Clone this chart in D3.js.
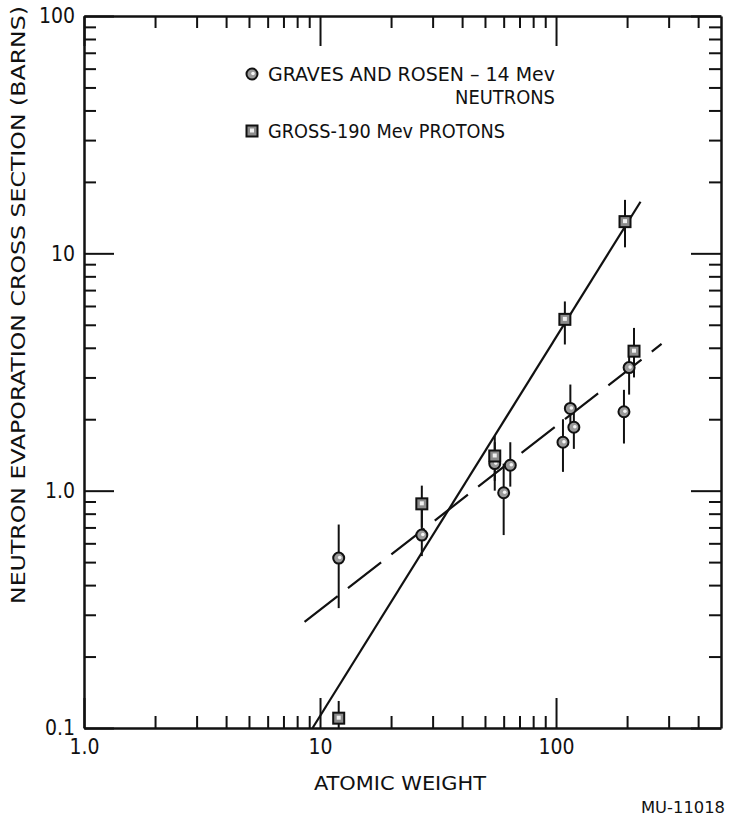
<!DOCTYPE html>
<html lang="en">
<head>
<meta charset="UTF-8">
<title>Neutron evaporation cross section vs atomic weight</title>
<script src="https://d3js.org/d3.v7.min.js"></script>
<style>
  body { margin: 0; background: #fff; }
  svg text {
    font-family: "DejaVu Sans Condensed", "Liberation Sans Narrow", "DejaVu Sans", sans-serif;
    fill: #111;
  }
  .axis line { stroke: #111; stroke-width: 2; }
  .axis .domain { stroke: #111; stroke-width: 2.5; }
  .errbar { stroke: #111; stroke-width: 2; }
  .fit { fill: none; stroke: #111; stroke-width: 2.2; }
</style>
</head>
<body>
<svg id="chart" width="733" height="817"></svg>
<script>
// Graves and Rosen - 14 Mev neutrons (circles)
const grA   = [12, 27, 55, 60, 64, 107, 115, 119, 194, 204];
const grVal = [0.52, 0.65, 1.3, 0.98, 1.28, 1.6, 2.22, 1.85, 2.15, 3.3];
const grLo  = [0.32, 0.53, 1.0, 0.65, 1.04, 1.2, 1.8, 1.5, 1.58, 2.54];
const grHi  = [0.72, 0.85, 1.6, 1.3, 1.6, 2.0, 2.8, 2.2, 2.66, 4.0];

// Gross - 190 Mev protons (squares)
const gpA   = [12, 27, 55, 109, 196, 214];
const gpVal = [0.11, 0.88, 1.4, 5.27, 13.6, 3.87];
const gpLo  = [0.10, 0.7, 1.1, 4.13, 10.6, 3.0];
const gpHi  = [0.13, 1.05, 1.7, 6.27, 16.8, 4.85];

// drawn lines (end points)
const solidLine  = [[9.3, 0.1], [228, 16.5]];
const dashedLine = [[8.6, 0.28], [280, 4.15]];

const xTicks = [1, 10, 100];
const xTickLabels = ["1.0", "10", "100"];
const yTicks = [0.1, 1, 10, 100];
const yTickLabels = ["0.1", "1.0", "10", "100"];

const svg = d3.select("#chart");
const plotL = 84, plotR = 721, plotT = 16, plotB = 728;

const x = d3.scaleLog().domain([1, 500]).range([plotL, plotR]);
const y = d3.scaleLog().domain([0.1, 100]).range([plotB, plotT]);

// minor ticks 2..9 of every decade inside the domain
function minorTicks(scale) {
  const [a, b] = scale.domain();
  const out = [];
  for (let d = a; d < b; d *= 10) {
    for (let k = 2; k <= 9; k++) {
      if (d * k < b * 0.999) out.push(d * k);
    }
  }
  return out;
}
const xMinor = minorTicks(x);
const yMinor = minorTicks(y);

// axes: major ticks long, minor ticks short, all pointing inward
function addAxis(axisFn, scale, tf, majors, minors, labels, pad) {
  const gMaj = svg.append("g").attr("class", "axis").attr("transform", tf)
    .call(axisFn(scale).tickValues(majors).tickSizeInner(-30).tickSizeOuter(0)
      .tickPadding(pad)
      .tickFormat((d, i) => labels ? labels[i] : ""));
  svg.append("g").attr("class", "axis").attr("transform", tf)
    .call(axisFn(scale).tickValues(minors).tickSizeInner(-12).tickSizeOuter(0)
      .tickFormat(""))
    .select(".domain").remove();
  return gMaj;
}

const gx = addAxis(d3.axisBottom, x, `translate(0,${plotB})`, xTicks, xMinor, xTickLabels, 11);
addAxis(d3.axisTop, x, `translate(0,${plotT})`, xTicks, xMinor, null, 0);
const gy = addAxis(d3.axisLeft, y, `translate(${plotL},0)`, yTicks, yMinor, yTickLabels, 9);
addAxis(d3.axisRight, y, `translate(${plotR},0)`, yTicks, yMinor, null, 0);

gx.selectAll("text").style("font-size", "21px").attr("fill", "#111");
gy.selectAll("text").style("font-size", "21px").attr("fill", "#111");

// fitted lines
const line = d3.line().x(d => x(d[0])).y(d => y(d[1]));
svg.append("path").attr("class", "fit").attr("d", line(solidLine));
svg.append("path").attr("class", "fit").attr("d", line(dashedLine))
  .attr("stroke-dasharray", "42,13");

// error bars
const grData = grA.map((a, i) => ({ a, v: grVal[i], lo: grLo[i], hi: grHi[i] }));
const gpData = gpA.map((a, i) => ({ a, v: gpVal[i], lo: gpLo[i], hi: gpHi[i] }));

svg.append("g").selectAll("line").data(grData.concat(gpData)).join("line")
  .attr("class", "errbar")
  .attr("x1", d => x(d.a)).attr("x2", d => x(d.a))
  .attr("y1", d => y(d.lo)).attr("y2", d => y(d.hi));

// markers
function circleMark(sel) {
  sel.append("circle").attr("r", 5.5).attr("fill", "#9a9a9a")
    .attr("stroke", "#111").attr("stroke-width", 2);
  sel.append("circle").attr("r", 1.8).attr("cx", 1).attr("cy", -0.5).attr("fill", "#f4f4f4");
}
function squareMark(sel) {
  sel.append("rect").attr("x", -5.5).attr("y", -5.5).attr("width", 11).attr("height", 11)
    .attr("fill", "#8c8c8c").attr("stroke", "#111").attr("stroke-width", 2);
  sel.append("rect").attr("x", -2).attr("y", -2.5).attr("width", 4).attr("height", 4)
    .attr("fill", "#f0f0f0");
}

svg.append("g").selectAll("g").data(grData).join("g")
  .attr("transform", d => `translate(${x(d.a)},${y(d.v)})`)
  .call(circleMark);
svg.append("g").selectAll("g").data(gpData).join("g")
  .attr("transform", d => `translate(${x(d.a)},${y(d.v)})`)
  .call(squareMark);

// legend
svg.append("g").attr("transform", "translate(252,74)").call(circleMark);
svg.append("text").attr("x", 268).attr("y", 81).attr("font-size", 19)
  .attr("textLength", 287).attr("lengthAdjust", "spacingAndGlyphs")
  .text("GRAVES AND ROSEN – 14 Mev");
svg.append("text").attr("x", 555).attr("y", 104).attr("font-size", 19)
  .attr("text-anchor", "end")
  .attr("textLength", 100).attr("lengthAdjust", "spacingAndGlyphs")
  .text("NEUTRONS");
svg.append("g").attr("transform", "translate(252,131)").call(squareMark);
svg.append("text").attr("x", 268).attr("y", 138).attr("font-size", 19)
  .attr("textLength", 237).attr("lengthAdjust", "spacingAndGlyphs")
  .text("GROSS-190 Mev PROTONS");

// axis titles
svg.append("text").attr("transform", "translate(25,305) rotate(-90)")
  .attr("text-anchor", "middle").attr("font-size", 19)
  .attr("textLength", 598).attr("lengthAdjust", "spacingAndGlyphs")
  .text("NEUTRON EVAPORATION CROSS SECTION (BARNS)");
svg.append("text").attr("x", 400).attr("y", 790).attr("text-anchor", "middle")
  .attr("font-size", 19).attr("textLength", 172).attr("lengthAdjust", "spacingAndGlyphs")
  .text("ATOMIC WEIGHT");
svg.append("text").attr("x", 641).attr("y", 813).attr("font-size", 15)
  .attr("textLength", 84).attr("lengthAdjust", "spacingAndGlyphs")
  .text("MU-11018");
</script>
</body>
</html>
